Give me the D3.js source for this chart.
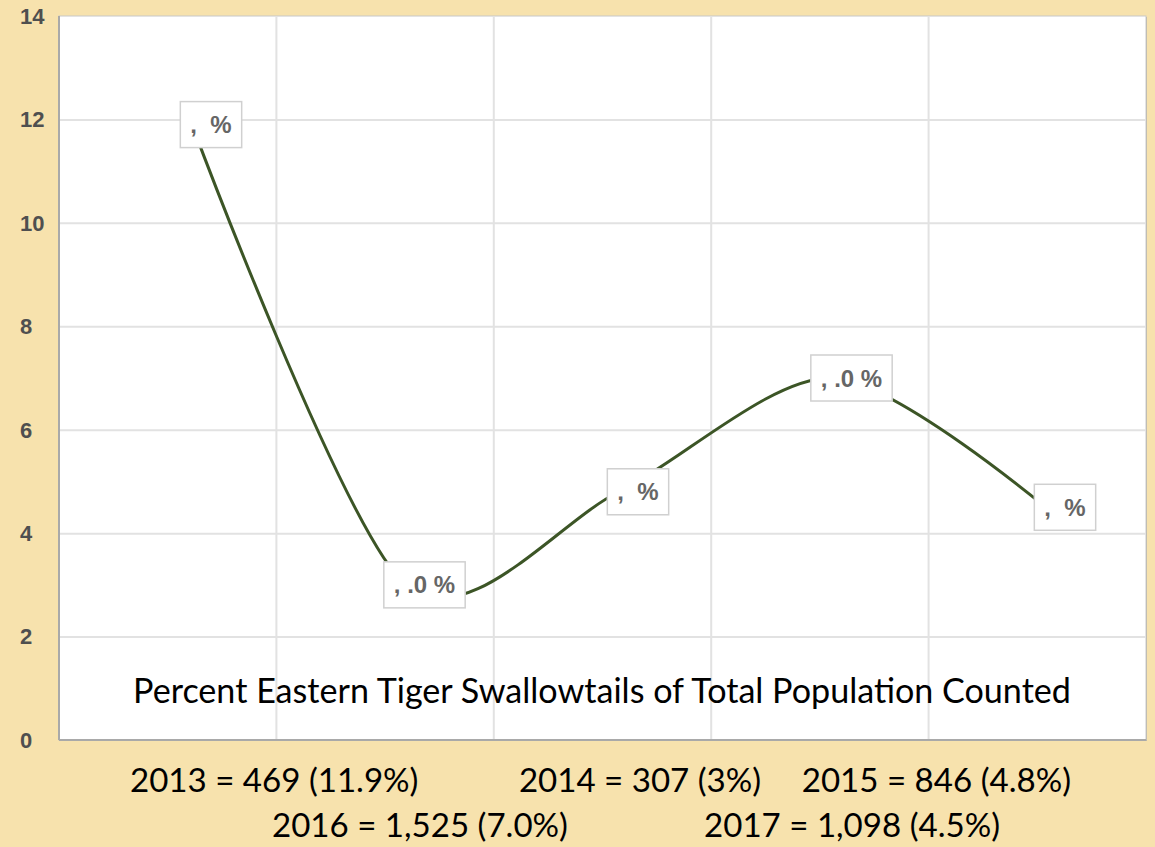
<!DOCTYPE html>
<html>
<head>
<meta charset="utf-8">
<script src="https://cdn.jsdelivr.net/npm/d3@7"></script>
<style>
  body { margin: 0; background: #f7e2ad; }
  svg text { white-space: pre; }
  .ylab text { font: bold 22px "Liberation Sans", Arial, sans-serif; fill: #4f4f4f; }
</style>
</head>
<body>
<div id="viz"></div>
<script>
// data
var years = [2013, 2014, 2015, 2016, 2017];
var counts = ["469", "307", "846", "1,525", "1,098"];
var pctText = ["11.9%", "3%", "4.8%", "7.0%", "4.5%"];
var pctValues = [11.9, 3.0, 4.8, 7.0, 4.5];
var pointLabels = [",  %", ", .0 %", ",  %", ", .0 %", ",  %"];
var yTicks = [0, 2, 4, 6, 8, 10, 12, 14];
var chartTitle = "Percent Eastern Tiger Swallowtails of Total Population Counted";

var W = 1155, H = 847;
var plotL = 59, plotR = 1146, plotT = 16, plotB = 740;

var svg = d3.select("#viz").append("svg")
    .attr("width", W)
    .attr("height", H);

svg.append("rect").attr("width", W).attr("height", H).attr("fill", "#f7e2ad");

// plot background + shadow
svg.append("rect")
    .attr("x", plotL + 1).attr("y", plotT + 1)
    .attr("width", plotR - plotL).attr("height", plotB - plotT)
    .attr("fill", "#b9b2a0");
svg.append("rect")
    .attr("x", plotL).attr("y", plotT)
    .attr("width", plotR - plotL).attr("height", plotB - plotT)
    .attr("fill", "#fff")
    .attr("stroke", "#c8c8c8")
    .attr("stroke-width", 1);

var y = d3.scaleLinear().domain([0, 14]).range([plotB, plotT]);
var x = d3.scalePoint().domain(years).range([plotL + 133, plotR - 100]);
var gx = d3.scaleLinear().domain([0, 5]).range([plotL, plotR]);

// vertical grid
svg.append("g").selectAll("line")
    .data([1, 2, 3, 4])
    .enter().append("line")
    .attr("x1", function(d){ return gx(d); })
    .attr("x2", function(d){ return gx(d); })
    .attr("y1", plotT).attr("y2", plotB)
    .attr("stroke", "#e2e2e2")
    .attr("stroke-width", 2);

// y axis grid lines (labels drawn separately)
var yAxis = svg.append("g")
    .attr("transform", "translate(" + plotL + ",0)")
    .call(d3.axisLeft(y).tickValues(yTicks).tickSize(-(plotR - plotL)).tickFormat(""));
yAxis.select(".domain").remove();
yAxis.selectAll(".tick line")
    .attr("stroke", function(d){ return d === 0 || d === 14 ? "none" : "#e2e2e2"; })
    .attr("stroke-width", 2);

svg.append("g")
    .attr("class", "ylab")
    .selectAll("text")
    .data(yTicks)
    .enter().append("text")
    .attr("x", 20)
    .attr("y", function(d){ return y(d); })
    .attr("dy", "0.36em")
    .text(function(d){ return d; });

// left + bottom border
svg.append("line").attr("x1", plotL).attr("x2", plotL).attr("y1", plotT).attr("y2", plotB)
    .attr("stroke", "#a9a9a9").attr("stroke-width", 2);
svg.append("line").attr("x1", plotL).attr("x2", plotR).attr("y1", plotB).attr("y2", plotB)
    .attr("stroke", "#a9a9a9").attr("stroke-width", 2);

// title inside plot
var title = svg.append("text")
    .attr("x", (133 + 1071) / 2)
    .attr("y", 703)
    .attr("text-anchor", "middle")
    .attr("fill", "#000")
    .style("font-family", "Lato, 'Open Sans', sans-serif")
    .style("font-size", "32px")
    .text(chartTitle);
var tw = title.node().getComputedTextLength();
var textSize = 32 * 938 / tw;
title.style("font-size", textSize + "px");

// line
var pts = years.map(function(yr, i){ return { year: yr, v: pctValues[i], label: pointLabels[i] }; });
var line = d3.line()
    .x(function(d){ return x(d.year); })
    .y(function(d){ return y(d.v); })
    .curve(d3.curveCardinal.tension(0.15));

svg.append("path")
    .datum(pts)
    .attr("d", line)
    .attr("fill", "none")
    .attr("stroke", "#3c5526")
    .attr("stroke-width", 3);

// point labels
var lab = svg.append("g").selectAll("g")
    .data(pts)
    .enter().append("g")
    .attr("transform", function(d){ return "translate(" + (x(d.year) + 19) + "," + y(d.v) + ")"; });
lab.append("rect").attr("class", "box");
lab.append("text")
    .attr("text-anchor", "middle")
    .attr("dy", "0.36em")
    .style("fill", "#666")
    .style("font-family", "'Liberation Sans', Arial, sans-serif")
    .style("font-size", "24px")
    .style("font-weight", "bold")
    .text(function(d){ return d.label; });
lab.each(function(){
    var g = d3.select(this);
    var w = g.select("text").node().getComputedTextLength() + 20;
    g.select("rect")
        .attr("x", -w / 2).attr("y", -23)
        .attr("width", w).attr("height", 46)
        .attr("fill", "#fff")
        .attr("stroke", "#d0d0d0")
        .attr("stroke-width", 1.5);
});

// bottom summary text
var entries = years.map(function(yr, i){ return yr + " = " + counts[i] + " (" + pctText[i] + ")"; });
var rowOf = [0, 0, 0, 1, 1];
var entryX = [130, 640, 1071, 272, 1000];
var entryAnchor = ["start", "middle", "end", "start", "end"];
var rowY = [792, 837];
svg.append("g").selectAll("text")
    .data(entries)
    .enter().append("text")
    .attr("x", function(d, i){ return entryX[i]; })
    .attr("y", function(d, i){ return rowY[rowOf[i]]; })
    .attr("text-anchor", function(d, i){ return entryAnchor[i]; })
    .attr("fill", "#000")
    .style("font-family", "Lato, 'Open Sans', sans-serif")
    .style("font-size", (textSize * 0.97) + "px")
    .text(function(d){ return d; });
</script>
</body>
</html>
